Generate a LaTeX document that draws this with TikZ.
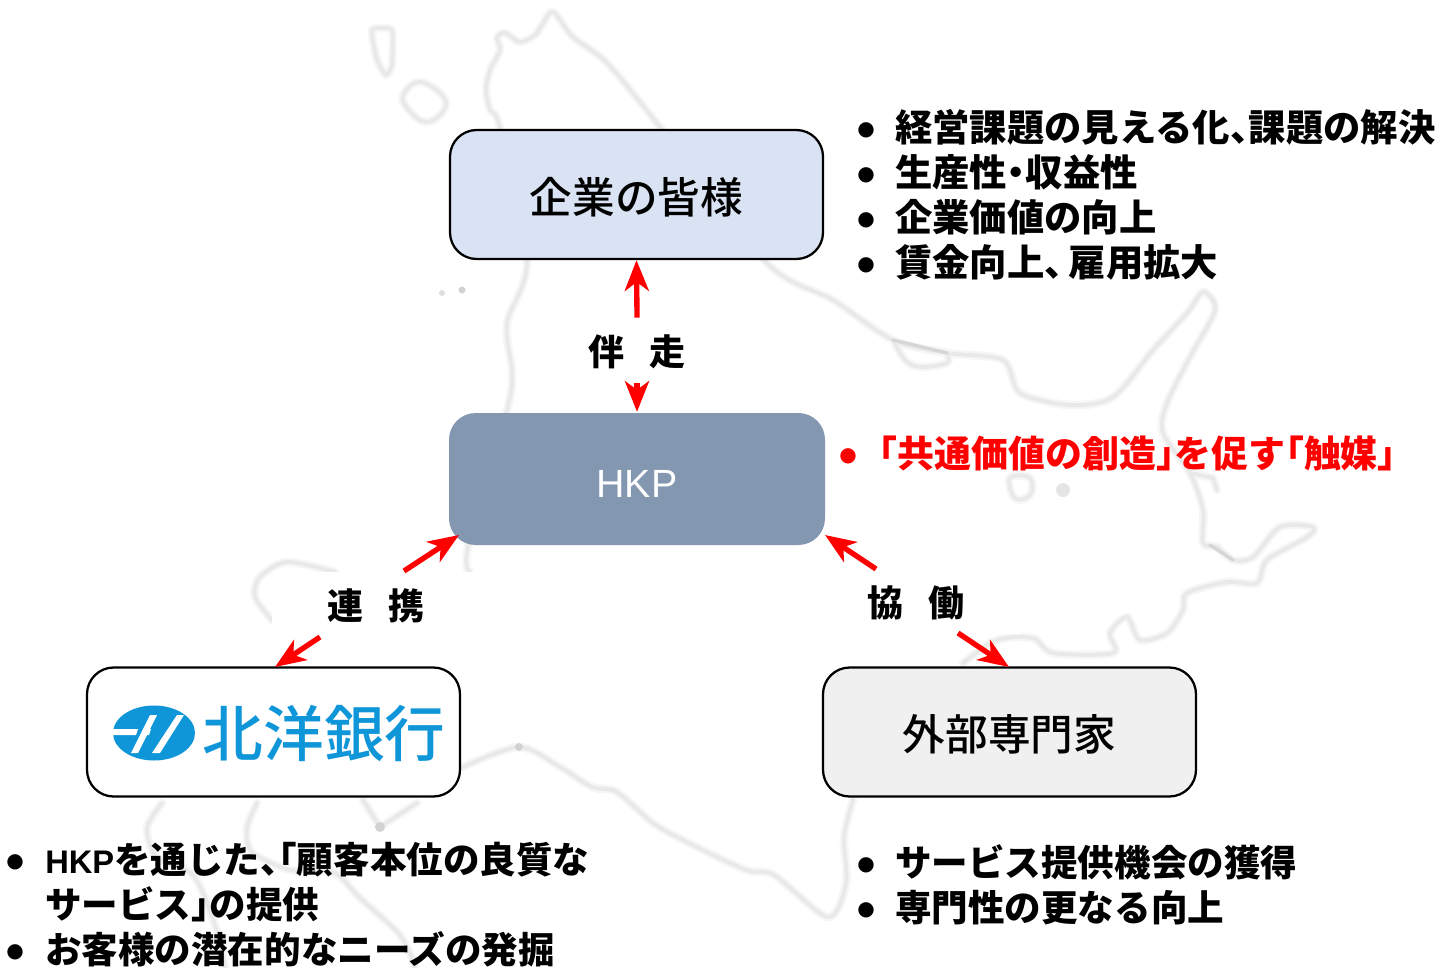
\documentclass[tikz,border=0pt]{standalone}
\usepackage{fontspec}
\usetikzlibrary{arrows.meta}
\setmainfont{Noto Sans CJK JP}
\newfontfamily\lat{Liberation Sans}
\newfontfamily\med{Noto Sans CJK JP Medium}
\newfontfamily\dv{DejaVu Sans}
\definecolor{kigyofill}{HTML}{DAE3F3}
\definecolor{hkpfill}{HTML}{8497B0}
\definecolor{gaibufill}{HTML}{F0F0F0}
\definecolor{logoblue}{HTML}{0F96D8}
\newcommand{\blt}[1]{\makebox[#1][l]{\raisebox{4.6pt}[0pt][0pt]{\fontsize{15}{15}\dv\selectfont ●}}}
\newcommand{\lb}{\kern-.5em「}
\newcommand{\rb}{」\kern-.5em}
\newcommand{\ten}{、\kern-.5em}
\newcommand{\tenb}{、\kern-.35em}
\newcommand{\dt}{\kern-.25em・\kern-.25em}
\newcommand{\boxtxt}[1]{\raisebox{-14pt}[0pt][0pt]{#1}}
\newcommand{\lbl}[1]{\raisebox{-11.6pt}[0pt][0pt]{#1}}
\tikzset{
  box/.style={rounded corners=20pt,minimum width=279.75pt,minimum height=96.75pt,inner sep=0pt,draw=black,line width=1.7pt,font=\fontsize{32}{36}\med\selectfont},
  patch/.style={fill=white,minimum width=156pt,minimum height=49pt,inner sep=0pt,font=\fontsize{27}{30}\bfseries\selectfont},
  listnode/.style={anchor=north west,inner sep=0pt,align=left,font=\fontsize{28}{33.75}\bfseries\selectfont},
  lowlist/.style={listnode,font=\fontsize{27.4}{33.75}\bfseries\selectfont},
  link/.style={red,line width=4pt,-{Stealth[length=23pt,width=18pt,inset=6.5pt]}},
  coast/.style={line width=3pt,gray!17,line cap=round,line join=round},
  coastb/.style={line width=6.5pt,gray!7,line cap=round,line join=round},
  dark/.style={gray!32,line width=2.5pt,line cap=round}
}
\begin{document}
\begin{tikzpicture}[x=0.75pt,y=-0.75pt]
\useasboundingbox (0,0) rectangle (1441,967);
% faint map
\foreach \st in {coastb,coast}{
\draw[\st] plot[smooth,tension=.5] coordinates {(470,572)(468,547)(507,410)(512,373)(507,323)(527,260)(500,128)(490,110)(486,90)(490,70)(500,50)(497,38)(505,33)(520,42)(535,35)(542,25)(553,12)(573,37)(607,63)(660,127)(767,263)(833,300)(893,340)(947,353)(1003,360)(1020,393)(1070,405)(1113,397)(1153,350)(1187,313)(1203,292)(1215,310)(1190,357)(1167,403)(1163,433)(1190,473)(1203,510)(1203,543)(1217,547)(1233,560)(1253,557)(1280,527)(1313,527)(1307,537)(1267,560)(1257,583)(1227,582)(1187,593)(1183,610)(1167,633)(1140,640)(1127,617)(1110,633)(1113,653)(1053,653)(1033,638)(997,640)(963,663)};
\draw[\st] plot[smooth,tension=.5] coordinates {(853,800)(844,837)(846,883)(828,917)(774,875)(746,870)(689,843)(653,823)(617,792)(592,787)(560,767)(519,747)(463,767)};
\draw[\st] plot[smooth,tension=.5] coordinates {(335,572)(287,562)(260,577)(255,597)(272,620)};
\draw[\st] plot[smooth,tension=.5] coordinates {(162,803)(147,828)(157,858)(193,875)(215,925)(225,967)};
\draw[\st] plot[smooth,tension=.5] coordinates {(257,803)(247,828)(252,852)(290,870)(333,872)(360,898)(400,935)(415,967)};
\draw[\st] (363,800) -- (380,827) -- (417,803);
\draw[\st] plot[smooth cycle,tension=.3] coordinates {(372,30)(392,30)(392,65)(386,75)(377,60)};
\draw[\st] plot[smooth cycle,tension=.7] coordinates {(420,82)(442,95)(444,110)(425,122)(405,105)(405,92)};
\draw[\st] plot[smooth,tension=.5] coordinates {(893,340)(905,360)(920,367)(947,363)(947,353)};
\draw[\st] plot[smooth cycle,tension=.7] coordinates {(1010,478)(1030,478)(1030,495)(1015,498)};
\draw[\st] (1190,473) -- (1213,478) -- (1217,490);
}
\fill[gray!25] (442,293) circle (3);
\fill[gray!35] (462,290) circle (3.5);
\fill[gray!20] (1063,490) circle (7);
\draw[dark] (893,340) -- (947,353);
\draw[dark] (1210,545) -- (1233,560);
\fill[gray!35] (380,827) circle (5);
\fill[gray!35] (519,747) circle (4);
% label patches
\node[patch] (banso) at (637,350.5) {\lbl{伴\hspace{19pt}走}};
\node[patch] (renkei) at (376,604.5) {\lbl{連\hspace{19pt}携}};
\node[patch] (kyodo) at (916,601.5) {\lbl{協\hspace{19pt}働}};
% boxes
\node[box,fill=kigyofill] (kigyo) at (636.5,194.5) {\boxtxt{企業の皆様}};
\node[box,fill=hkpfill,draw=none,minimum width=282pt,minimum height=99pt] (hkp) at (637,479) {\raisebox{-13.5pt}[0pt][0pt]{\fontsize{29.5}{32}\lat\selectfont\color{white}HKP}};
\node[box,fill=white] (hokuyo) at (273.5,732) {};
\node[box,fill=gaibufill] (gaibu) at (1009.5,732) {\boxtxt{外部専門家}};
% logo
\fill[logoblue] (154,733) ellipse (41 and 27.5);
\fill[white] (150,715) -- (157,715) -- (138,753) -- (131,753) -- cycle;
\fill[white] (177,715) -- (184,715) -- (160,753) -- (152,753) -- cycle;
\fill[white] (113,729) -- (138,729) -- (136,735) -- (113,735) -- cycle;
\fill[white] (146,729) -- (151,729) -- (149,735) -- (143,735) -- cycle;
\node[inner sep=0pt,text=logoblue,font=\fontsize{45.5}{50}\med\selectfont] (logotext) at (324,733) {北洋銀行};
% connectors
\coordinate (rstart) at (404,571);
\coordinate (rhkp) at (459,535);
\coordinate (rend) at (320,637);
\coordinate (rhok) at (275,667);
\coordinate (kstart) at (876,569);
\coordinate (khkp) at (825,535);
\coordinate (kend) at (958,633);
\coordinate (kgai) at (1009,667);
\draw[link] (banso.north) -- (kigyo.south);
\draw[link] (banso.south) -- (hkp.north);
\draw[link] (rstart) -- (rhkp);
\draw[link] (rend) -- (rhok);
\draw[link] (kstart) -- (khkp);
\draw[link] (kend) -- (kgai);
% lists
\node[listnode] (l1) at (857,109) {\blt{28.5pt}経営課題の見える化\ten 課題の解決\\\blt{28.5pt}生産性\dt 収益性\\\blt{28.5pt}企業価値の向上\\\blt{28.5pt}賃金向上\tenb 雇用拡大};
\node[listnode,text=red,font=\fontsize{27.7}{33.75}\bfseries\selectfont] (l2) at (839,436) {\blt{30pt}\lb 共通価値の創造\rb を促す\lb 触媒\rb};
\node[lowlist] (l3) at (6,842) {\blt{29.25pt}{\fontsize{24.5}{30}\lat\bfseries\selectfont HKP}を通じた\ten\lb 顧客本位の良質な\\\hspace*{29.25pt}サービス\rb の提供\\\blt{29.25pt}お客様の潜在的なニーズの発掘};
\node[lowlist] (l4) at (857,844) {\blt{28.5pt}サービス提供機会の獲得\\\blt{28.5pt}専門性の更なる向上};
\end{tikzpicture}
\end{document}
